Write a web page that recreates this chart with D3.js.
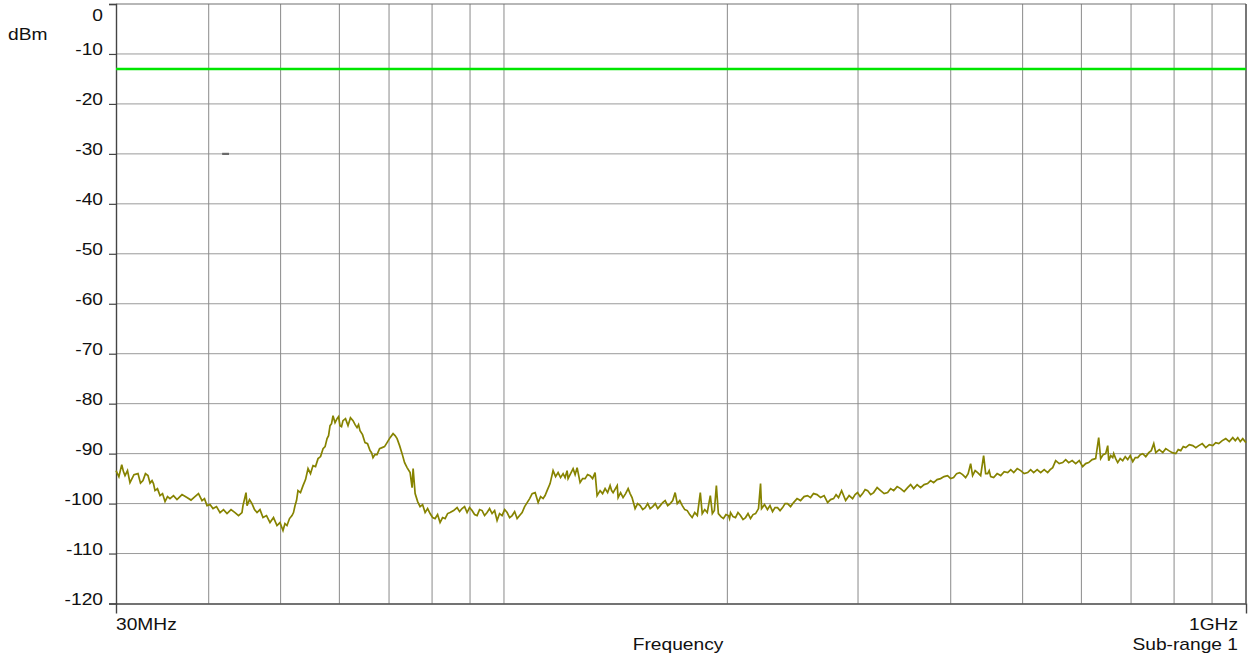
<!DOCTYPE html>
<html>
<head>
<meta charset="utf-8">
<script src="https://cdn.jsdelivr.net/npm/d3@7"></script>
<style>
  html, body { margin: 0; padding: 0; background: #fff; }
  svg { display: block; }
  text { font-family: "Liberation Sans", Arial, sans-serif; font-size: 16px; fill: #111; }
</style>
</head>
<body>
<svg id="chart" width="1250" height="656"></svg>
<script>
// ---------- data (frequency in MHz, level in dBm) ----------
const freqMHz = [
  30, 30.27, 30.54, 30.7, 30.85, 31.09, 31.33, 31.72, 32.12, 32.37,
  32.62, 32.87, 33.13, 33.34, 33.55, 33.7, 33.86, 34.12, 34.39, 34.66,
  34.93, 35.2, 35.47, 35.86, 36.25, 36.82, 37.39, 37.86, 38.33, 38.75,
  39.18, 39.48, 39.79, 40.16, 40.54, 40.98, 41.43, 41.88, 42.34, 42.87,
  43.40, 43.88, 44.35, 44.49, 44.91, 45.05, 45.4, 45.75, 46.11, 46.47,
  46.9, 47.34, 47.86, 48.38, 48.91, 49.44, 49.90, 50.37, 50.68, 51.00,
  51.4, 51.80, 52.04, 52.29, 52.53, 52.77, 53.18, 53.60, 54.02, 54.44,
  54.86, 55.29, 55.72, 56.16, 56.6, 57.04, 57.4, 57.75, 58.02, 58.29,
  58.56, 58.83, 59.2, 59.57, 59.85, 60.12, 60.4, 60.68, 61.15, 61.63,
  62.1, 62.60, 63.0, 63.38, 63.68, 63.97, 64.47, 64.97, 65.48, 65.99,
  66.3, 66.60, 67.0, 67.44, 67.97, 68.50, 69.03, 69.57, 70.22, 70.88,
  71.32, 71.77, 72.33, 72.89, 73.46, 74.03, 74.73, 75.19, 75.43, 75.90,
  76.5, 77.08, 77.68, 78.29, 78.9, 79.51, 80.13, 80.75, 81.38, 82.01,
  82.65, 83.30, 83.95, 84.60, 85.53, 86.46, 87.13, 87.80, 88.49, 89.18,
  89.87, 90.57, 91.28, 91.99, 92.71, 93.43, 94.16, 94.89, 95.63, 96.38,
  97.13, 97.88, 98.64, 99.41, 100.2, 100.98, 101.77, 102.56, 103.36, 104.16,
  104.97, 105.79, 106.62, 107.45, 108.29, 109.13, 110.15, 111.18, 112.04, 112.90,
  113.6, 114.31, 115.38, 116.46, 117.37, 118.28, 119.2, 120.13, 120.88, 121.63,
  122.01, 122.96, 123.92, 124.7, 125.47, 126.64, 127.63, 128.62, 129.62, 130.63,
  131.65, 132.67, 133.50, 134.75, 135.8, 136.86, 137.93, 139.0, 139.65, 140.3,
  142.1, 142.5, 143.6, 144.7, 145.85, 147.0, 147.9, 148.8, 150.2, 151.4,
  152.6, 153.8, 155.0, 156.2, 157.4, 158.65, 159.9, 161.15, 162.4, 163.65,
  164.9, 166.2, 167.5, 168.8, 170.1, 171.2, 172.55, 173.9, 175.25, 176.6,
  177.95, 179.3, 180.75, 182.2, 183.9, 185.0, 186.45, 187.9, 189.7, 190.9,
  192.1, 193.3, 194.5, 196.05, 197.6, 199.15, 200.7, 201.35, 202.0, 203.55,
  205.1, 206.7, 208.3, 209.95, 211.6, 213.25, 214.9, 216.6, 218.3, 220.3,
  221.7, 222.4, 224.45, 226.5, 228.3, 230.1, 231.9, 233.7, 235.55, 237.4,
  239.25, 241.1, 243.35, 245.6, 248.3, 251.0, 253.75, 256.5, 258.9, 261.3,
  264.2, 267.1, 270.05, 273.0, 275.55, 278.1, 280.25, 282.4, 285.1, 288.7,
  291.85, 295.0, 297.3, 299.6, 301.95, 304.3, 306.7, 309.1, 312.0, 314.9,
  318.35, 321.8, 325.35, 328.9, 332.0, 335.1, 338.75, 342.4, 346.15, 349.9,
  353.2, 356.5, 360.4, 364.3, 368.3, 372.3, 375.8, 379.3, 383.45, 387.6,
  391.85, 396.1, 399.85, 403.6, 407.4, 411.2, 415.05, 418.9, 422.2, 425.5,
  428.1, 431.5, 434.9, 438.95, 443.0, 445.8, 448.6, 450.7, 452.8, 457.0,
  462.0, 467.1, 472.2, 477.4, 481.9, 486.4, 491.7, 497.0, 502.4, 507.9,
  512.6, 517.4, 523.1, 528.8, 534.6, 540.4, 544.6, 548.9, 554.0, 560.1,
  566.2, 571.5, 576.8, 583.1, 589.5, 596.0, 602.4, 608.0, 613.7, 620.4,
  627.2, 633.1, 637.0, 642.0, 647.0, 651.1, 653.1, 657.2, 661.3, 663.3,
  667.4, 671.6, 676.8, 682.1, 687.4, 692.8, 698.2, 703.7, 709.2, 714.7,
  720.3, 725.9, 732.7, 739.5, 745.3, 751.1, 755.8, 764.1, 772.4, 779.6,
  786.9, 795.5, 804.2, 810.4, 816.7, 823.1, 829.5, 838.6, 847.7, 855.7,
  863.7, 873.1, 882.6, 892.3, 902.0, 910.4, 918.9, 929.0, 939.1, 949.4,
  959.8, 967.3, 974.8, 982.4, 990.0, 1000
];
const levelDbm = [
  -93.4, -94.6, -92.2, -93.6, -94.4, -93.4, -95.8, -94.2, -94.0, -95.9,
  -95.4, -94.0, -94.4, -95.9, -95.4, -96.0, -97.4, -97.0, -98.4, -98.0,
  -99.6, -98.6, -99.0, -98.4, -99.2, -98.2, -98.8, -99.3, -98.6, -98.0,
  -99.4, -99.0, -100.4, -100.2, -101.0, -100.6, -101.8, -101.2, -102.0, -101.2,
  -101.8, -102.4, -101.8, -100.4, -97.8, -100.4, -99.2, -100.0, -101.2, -101.8,
  -101.2, -102.8, -102.4, -103.8, -102.8, -104.4, -103.8, -105.4, -104.0, -104.4,
  -103.0, -102.4, -101.8, -100.4, -99.4, -97.4, -97.8, -96.4, -95.2, -93.0,
  -94.0, -92.4, -92.6, -91.0, -90.6, -89.0, -88.6, -87.0, -86.4, -84.4,
  -84.0, -82.4, -83.8, -83.0, -82.6, -84.4, -84.6, -83.4, -83.0, -84.4,
  -82.8, -83.4, -84.2, -84.8, -84.2, -85.4, -86.2, -87.8, -88.0, -89.4,
  -89.8, -90.8, -90.2, -90.2, -89.0, -88.8, -88.6, -87.8, -86.8, -86.0,
  -86.4, -87.0, -88.4, -90.0, -91.8, -92.8, -93.8, -96.8, -93.0, -98.0,
  -99.6, -100.6, -100.2, -101.8, -101.0, -102.0, -102.8, -103.0, -102.2, -103.8,
  -102.8, -103.0, -102.0, -101.8, -101.4, -100.8, -101.6, -101.0, -100.6, -101.8,
  -100.8, -101.4, -102.2, -102.4, -101.2, -101.4, -102.4, -101.8, -101.0, -102.0,
  -101.4, -103.4, -102.0, -102.4, -101.2, -101.8, -102.8, -102.4, -101.6, -103.0,
  -102.4, -101.8, -100.6, -99.8, -99.0, -98.0, -97.8, -99.8, -98.6, -99.0,
  -98.4, -97.4, -96.0, -93.4, -94.6, -93.8, -94.8, -94.0, -94.8, -93.4,
  -95.0, -94.0, -93.0, -94.2, -92.8, -95.8, -95.0, -95.0, -94.2, -94.4,
  -95.0, -93.8, -98.4, -97.4, -98.0, -97.0, -97.8, -96.4, -97.4, -97.8,
  -96.4, -98.8, -97.8, -98.8, -98.0, -97.0, -98.0, -98.8, -101.0, -100.0,
  -100.4, -101.2, -100.8, -100.0, -101.0, -100.6, -100.0, -101.0, -100.4, -99.8,
  -99.4, -100.4, -100.0, -99.4, -97.8, -100.0, -99.4, -100.4, -101.2, -101.4,
  -102.2, -102.8, -101.8, -102.4, -97.8, -102.0, -101.2, -101.8, -98.4, -102.0,
  -101.4, -96.4, -102.0, -102.6, -103.0, -102.2, -102.4, -103.0, -101.8, -102.6,
  -102.8, -101.8, -102.4, -103.2, -102.8, -102.0, -103.0, -102.2, -102.0, -101.0,
  -96.0, -101.0, -100.2, -101.2, -100.4, -101.6, -100.8, -100.8, -101.4, -100.8,
  -100.0, -100.0, -100.6, -99.8, -99.0, -99.4, -98.6, -98.4, -98.8, -98.0,
  -98.2, -98.8, -98.4, -99.8, -99.2, -99.0, -98.2, -98.8, -97.4, -99.4,
  -98.4, -99.0, -98.2, -97.8, -98.6, -98.0, -97.2, -97.4, -98.2, -97.8,
  -96.8, -97.4, -98.0, -97.8, -97.0, -97.4, -96.6, -97.0, -97.6, -96.8,
  -96.2, -97.0, -96.2, -96.8, -96.2, -96.0, -95.4, -95.8, -95.2, -95.0,
  -94.6, -94.4, -95.0, -94.8, -94.0, -93.8, -94.2, -94.8, -94.0, -92.0,
  -94.4, -93.4, -93.8, -94.4, -90.4, -94.0, -94.0, -93.4, -94.6, -94.8,
  -94.0, -94.4, -93.6, -93.8, -93.2, -93.8, -93.0, -93.4, -94.0, -93.8,
  -93.2, -93.8, -93.2, -93.8, -93.2, -93.8, -93.2, -92.8, -91.4, -92.0,
  -91.8, -91.2, -91.8, -91.4, -92.0, -91.4, -92.6, -92.0, -91.8, -91.2,
  -91.0, -86.8, -91.0, -90.2, -90.0, -88.4, -91.4, -90.4, -90.8, -90.0,
  -91.0, -91.8, -91.0, -91.4, -90.6, -91.2, -90.4, -91.6, -90.8, -90.8,
  -90.2, -90.0, -90.6, -89.8, -89.4, -88.0, -89.8, -89.2, -89.8, -89.0,
  -89.4, -89.8, -90.0, -89.2, -89.4, -88.6, -88.8, -88.2, -88.4, -88.8,
  -88.4, -88.0, -88.8, -88.2, -88.4, -87.8, -88.0, -87.4, -87.0, -87.6,
  -86.8, -87.4, -86.8, -87.6, -87.0, -87.8
];
const yTickValues = [0, -10, -20, -30, -40, -50, -60, -70, -80, -90, -100, -110, -120];
const xGridMHz = [40, 50, 60, 70, 80, 90, 100, 200, 300, 400, 500, 600, 700, 800, 900];
const limitLineDbm = -13;
const markerDbm = -30;          // small stray mark on the -30 dBm line
const markerMHz = [41.7, 42.6];
const yUnitLabel = "dBm";
const xStartLabel = "30MHz";
const xEndLabel = "1GHz";
const xTitle = "Frequency";
const subRangeLabel = "Sub-range 1";

// ---------- layout ----------
const plotL = 116, plotR = 1246, plotT = 4, plotB = 603.5;
const svg = d3.select("#chart");
svg.append("rect").attr("width", 1250).attr("height", 656).attr("fill", "#fff");

const x = d3.scaleLog().domain([30, 1000]).range([plotL, plotR]);
const y = d3.scaleLinear().domain([-120, 0]).range([plotB, plotT]);

// horizontal grid
svg.append("g").selectAll("line").data(yTickValues.filter(v => v !== 0 && v !== -120)).join("line")
  .attr("x1", plotL).attr("x2", plotR).attr("y1", d => y(d)).attr("y2", d => y(d))
  .attr("stroke", "#9a9a9a").attr("stroke-width", 1);

// vertical grid
svg.append("g").selectAll("line").data(xGridMHz).join("line")
  .attr("x1", d => x(d)).attr("x2", d => x(d)).attr("y1", plotT).attr("y2", plotB)
  .attr("stroke", "#8a8a8a").attr("stroke-width", 1);

// border top/right
svg.append("line").attr("x1", plotL).attr("x2", plotR).attr("y1", plotT).attr("y2", plotT)
  .attr("stroke", "#707070").attr("stroke-width", 1.2);
svg.append("line").attr("x1", plotR).attr("x2", plotR).attr("y1", plotT).attr("y2", plotB)
  .attr("stroke", "#555").attr("stroke-width", 1.6);

// left axis with ticks
const yAxis = d3.axisLeft(y).tickValues(yTickValues).tickSize(7).tickFormat("");
const gy = svg.append("g").attr("transform", `translate(${plotL},0)`).call(yAxis);
gy.select(".domain").attr("stroke", "#444").attr("stroke-width", 1.4);
gy.selectAll(".tick line").attr("stroke", "#444").attr("stroke-width", 1.2);

// bottom axis
const xAxis = d3.axisBottom(x).tickValues([30, 1000]).tickSize(10).tickFormat("").tickSizeOuter(0);
const gx = svg.append("g").attr("transform", `translate(0,${plotB})`).call(xAxis);
gx.select(".domain").attr("stroke", "#444").attr("stroke-width", 1.4);
gx.selectAll(".tick line").attr("stroke", "#444").attr("stroke-width", 1.4);

// stray marker
svg.append("line").attr("x1", x(markerMHz[0])).attr("x2", x(markerMHz[1]))
  .attr("y1", y(markerDbm)).attr("y2", y(markerDbm)).attr("stroke", "#6a6a6a").attr("stroke-width", 2.2);

// limit line
svg.append("line").attr("x1", plotL).attr("x2", plotR)
  .attr("y1", y(limitLineDbm)).attr("y2", y(limitLineDbm))
  .attr("stroke", "#00e600").attr("stroke-width", 2.4);

// trace
const pts = freqMHz.map((f, i) => [f, levelDbm[i]]);
const line = d3.line().x(d => x(d[0])).y(d => y(d[1]));
svg.append("path").datum(pts).attr("d", line)
  .attr("fill", "none").attr("stroke", "#868300").attr("stroke-width", 1.7).attr("stroke-linejoin", "miter");

// text helper (text in reference is horizontally widened)
function label(px, py, str, anchor) {
  svg.append("text").attr("transform", `translate(${px},${py}) scale(1.2,1)`)
    .attr("text-anchor", anchor).text(str);
}
yTickValues.forEach(v => {
  const py = v === 0 ? 20.5 : y(v) + 1;
  label(103, py, String(v), "end");
});
label(8, 40, yUnitLabel, "start");
label(116, 630, xStartLabel, "start");
label(1238, 630, xEndLabel, "end");
label(678, 650, xTitle, "middle");
label(1238, 650, subRangeLabel, "end");
</script>
</body>
</html>
